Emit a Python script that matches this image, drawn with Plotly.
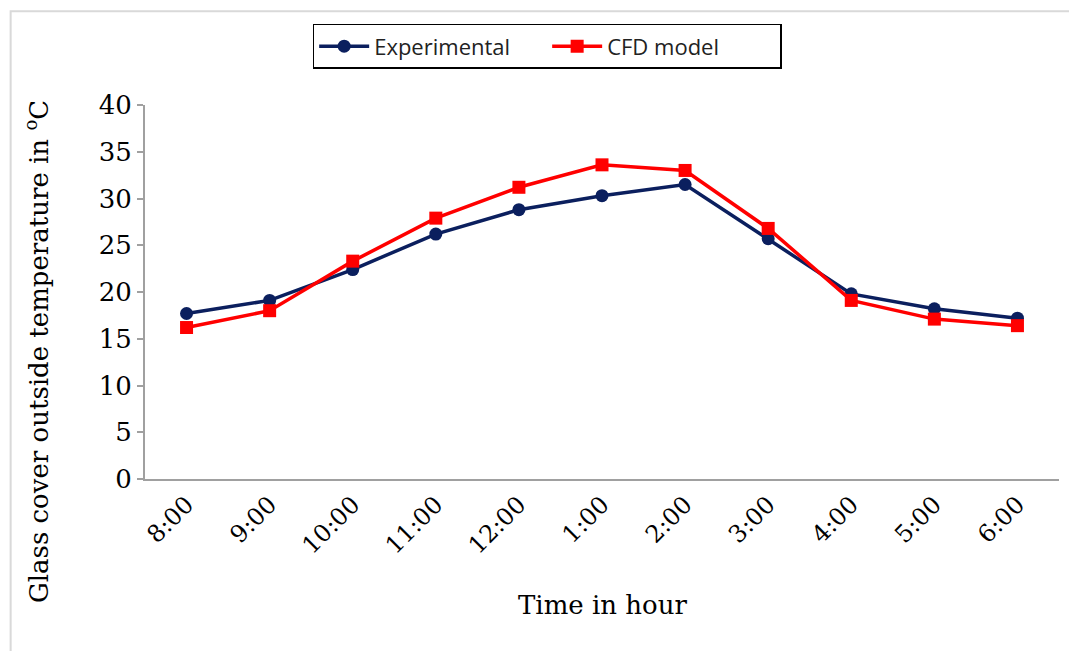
import plotly.graph_objects as go

times = ["8:00", "9:00", "10:00", "11:00", "12:00", "1:00", "2:00", "3:00", "4:00", "5:00", "6:00"]
experimental = [17.7, 19.1, 22.4, 26.2, 28.8, 30.3, 31.5, 25.7, 19.8, 18.2, 17.2]
cfd_model = [16.2, 18.0, 23.3, 27.9, 31.2, 33.6, 33.0, 26.8, 19.1, 17.1, 16.4]
y_ticks = [0, 5, 10, 15, 20, 25, 30, 35, 40]

fig = go.Figure()
fig.add_trace(go.Scatter(
    x=times, y=experimental, name="Experimental", mode="lines+markers",
    line=dict(color="#0b1f5e", width=3.5),
    marker=dict(symbol="circle", size=13, color="#0b1f5e"),
))
fig.add_trace(go.Scatter(
    x=times, y=cfd_model, name="CFD model", mode="lines+markers",
    line=dict(color="#ff0000", width=3.5),
    marker=dict(symbol="square", size=13, color="#ff0000"),
))

serif = "DejaVu Serif"
fig.update_layout(
    width=1077, height=651,
    margin=dict(l=137, r=26, t=97, b=180),
    paper_bgcolor="white", plot_bgcolor="white",
    showlegend=True,
    legend=dict(
        orientation="h", x=0.44, xanchor="center", y=1.217, yanchor="top",
        bordercolor="black", borderwidth=1.5,
        font=dict(family="Open Sans", size=22, color="#222"),
        entrywidth=168, itemwidth=50,
    ),
    xaxis=dict(
        type="category", showgrid=False, showline=True, linecolor="#a0a0a0", linewidth=2,
        ticks="", tickangle=-45,
        tickfont=dict(family=serif, size=24, color="black"),
        range=[-0.5, 10.5],
    ),
    yaxis=dict(
        range=[0, 40], tickvals=y_ticks, showgrid=False, zeroline=False,
        showline=True, linecolor="#a0a0a0", linewidth=2,
        ticks="outside", ticklen=6, tickcolor="#a0a0a0", tickwidth=1.5,
        tickfont=dict(family=serif, size=26, color="black"),
    ),
    annotations=[
        dict(text="Glass cover outside temperature in <sup>o</sup>C", xref="paper", yref="paper",
             x=-0.118, y=0.34, textangle=-90, showarrow=False,
             font=dict(family=serif, size=26, color="black"), xanchor="center", yanchor="middle"),
        dict(text="Time in hour", xref="paper", yref="paper", x=0.5, y=-0.337,
             showarrow=False, font=dict(family=serif, size=26, color="black"),
             xanchor="center", yanchor="middle"),
    ],
    shapes=[
        dict(type="rect", xref="paper", yref="paper", x0=-0.147, y0=-0.47, x1=1.05, y1=1.251,
             line=dict(color="#d9d9d9", width=2), layer="below"),
    ],
)

fig.write_html("out.html")
